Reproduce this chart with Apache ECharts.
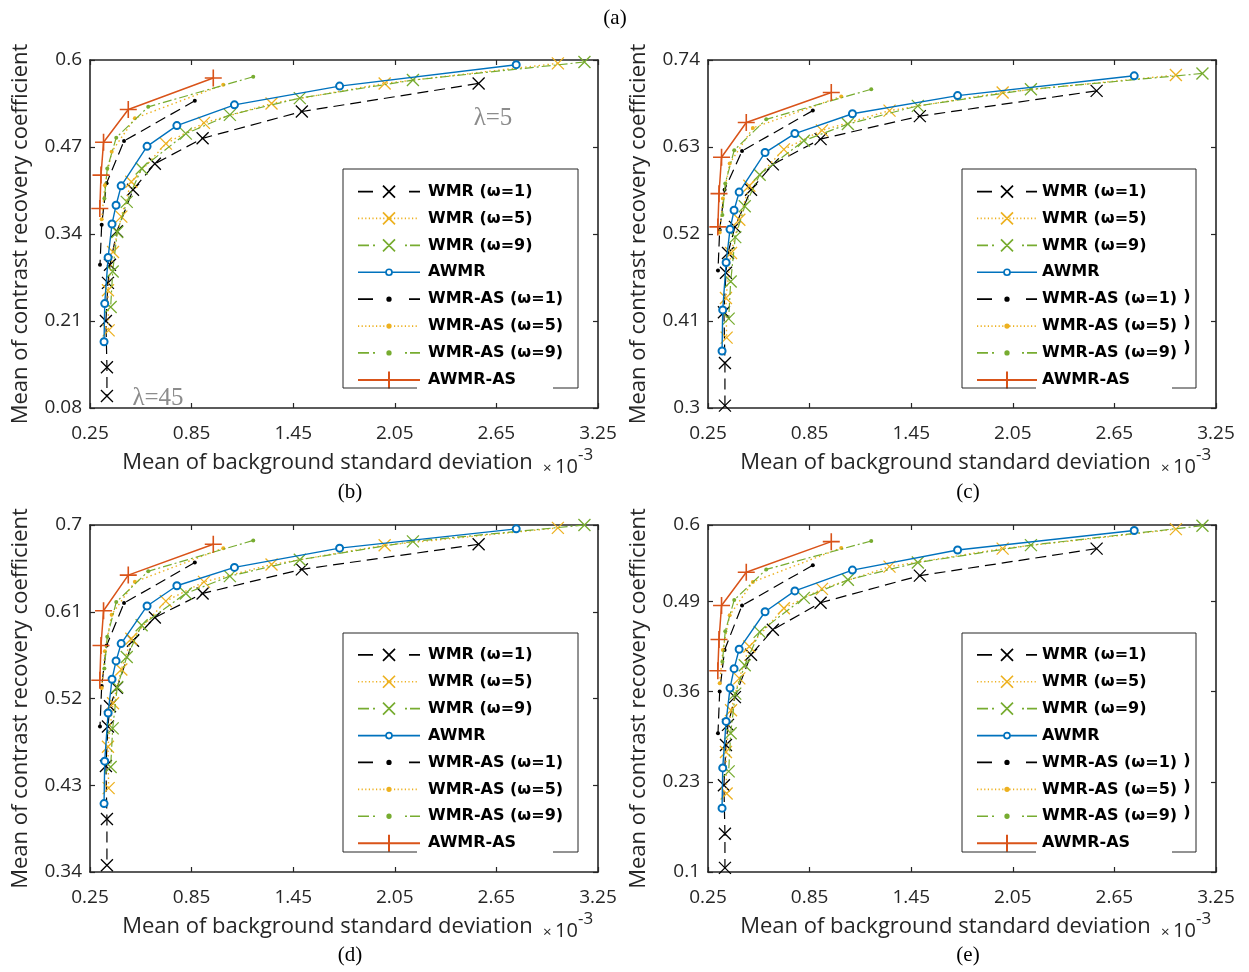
<!DOCTYPE html>
<html>
<head>
<meta charset="utf-8">
<script src="https://cdn.jsdelivr.net/npm/echarts@6/dist/echarts.min.js"></script>
<style>
  html, body { margin: 0; padding: 0; background: #fff; }
  #chart { width: 1249px; height: 972px; }
</style>
</head>
<body>
<div id="chart"></div>
<script>
// ---- data (x = mean of background std, x1e-3; y = mean CRC) ----
const seriesNames = ['WMR (ω=1)', 'WMR (ω=5)', 'WMR (ω=9)', 'AWMR',
  'WMR-AS (ω=1)', 'WMR-AS (ω=5)', 'WMR-AS (ω=9)', 'AWMR-AS'];

const xTicks = [0.25, 0.85, 1.45, 2.05, 2.65, 3.25];
const yTicksB = [0.08, 0.21, 0.34, 0.47, 0.6];
const yTicksC = [0.3, 0.41, 0.52, 0.63, 0.74];
const yTicksD = [0.34, 0.43, 0.52, 0.61, 0.7];
const yTicksE = [0.1, 0.23, 0.36, 0.49, 0.6];

// x positions (same in all four panels), lambda = 5 ... 45
const xWMR1 = [2.545, 1.501, 0.915, 0.633, 0.504, 0.409, 0.368, 0.356, 0.344, 0.350, 0.350];
const xWMR5 = [3.013, 1.990, 1.322, 0.923, 0.698, 0.494, 0.435, 0.386, 0.356, 0.360];
const xWMR9 = [3.170, 2.157, 1.489, 1.076, 0.816, 0.555, 0.467, 0.411, 0.384, 0.372];
const xAWMR = [2.767, 1.724, 1.103, 0.763, 0.587, 0.434, 0.404, 0.380, 0.357, 0.337, 0.333];
const xAS1 = [0.869, 0.451, 0.348, 0.319, 0.309];
const xAS5 = [1.037, 0.515, 0.378, 0.338, 0.319];
const xAS9 = [1.214, 0.594, 0.405, 0.352, 0.335];
const xAWMRAS = [0.978, 0.476, 0.330, 0.315, 0.308];

// y values per panel, in series order
const yPanelB = [
  [0.565, 0.523, 0.483, 0.445, 0.406, 0.344, 0.294, 0.267, 0.210, 0.141, 0.098],
  [0.595, 0.565, 0.535, 0.506, 0.475, 0.418, 0.366, 0.313, 0.256, 0.196],
  [0.597, 0.570, 0.543, 0.518, 0.490, 0.438, 0.388, 0.343, 0.284, 0.231],
  [0.593, 0.561, 0.533, 0.502, 0.471, 0.412, 0.383, 0.355, 0.305, 0.236, 0.179],
  [0.539, 0.479, 0.416, 0.354, 0.294],
  [0.563, 0.513, 0.463, 0.413, 0.362],
  [0.575, 0.530, 0.484, 0.438, 0.393],
  [0.573, 0.526, 0.477, 0.428, 0.378]
];
const yPanelC = [
  [0.701, 0.669, 0.640, 0.608, 0.576, 0.529, 0.496, 0.471, 0.421, 0.357, 0.303],
  [0.721, 0.699, 0.676, 0.651, 0.627, 0.581, 0.538, 0.496, 0.439, 0.389],
  [0.723, 0.703, 0.682, 0.659, 0.638, 0.595, 0.555, 0.516, 0.460, 0.413],
  [0.720, 0.695, 0.672, 0.647, 0.623, 0.573, 0.550, 0.526, 0.484, 0.424, 0.372],
  [0.676, 0.625, 0.576, 0.525, 0.474],
  [0.694, 0.654, 0.609, 0.565, 0.522],
  [0.703, 0.665, 0.626, 0.584, 0.544],
  [0.699, 0.661, 0.617, 0.571, 0.529]
];
const yPanelD = [
  [0.680, 0.654, 0.629, 0.604, 0.580, 0.531, 0.512, 0.491, 0.450, 0.395, 0.347],
  [0.697, 0.679, 0.659, 0.641, 0.621, 0.582, 0.550, 0.515, 0.470, 0.427],
  [0.700, 0.683, 0.664, 0.647, 0.629, 0.596, 0.563, 0.532, 0.489, 0.449],
  [0.696, 0.676, 0.656, 0.637, 0.616, 0.577, 0.559, 0.540, 0.505, 0.455, 0.411],
  [0.661, 0.619, 0.575, 0.533, 0.491],
  [0.676, 0.641, 0.607, 0.569, 0.531],
  [0.684, 0.652, 0.620, 0.584, 0.551],
  [0.680, 0.648, 0.611, 0.575, 0.539]
];
const yPanelE = [
  [0.566, 0.527, 0.488, 0.449, 0.413, 0.352, 0.312, 0.283, 0.225, 0.155, 0.106],
  [0.594, 0.566, 0.540, 0.508, 0.480, 0.425, 0.379, 0.333, 0.273, 0.213],
  [0.599, 0.571, 0.546, 0.521, 0.495, 0.446, 0.398, 0.357, 0.300, 0.245],
  [0.592, 0.564, 0.535, 0.505, 0.475, 0.421, 0.393, 0.365, 0.317, 0.250, 0.192],
  [0.542, 0.484, 0.420, 0.360, 0.300],
  [0.567, 0.518, 0.470, 0.420, 0.372],
  [0.577, 0.536, 0.492, 0.447, 0.403],
  [0.576, 0.532, 0.484, 0.435, 0.390]
];

const xSets = [xWMR1, xWMR5, xWMR9, xAWMR, xAS1, xAS5, xAS9, xAWMRAS];

// ---- styles ----
const BLACK = '#000000', ORANGE = '#EDB120', GREEN = '#77AC30', BLUE = '#0072BD', RED = '#D95319';
const AXIS = '#262626';
const CROSS = 'path://M0,0L10,10M10,0L0,10';
const PLUS = 'path://M5,0L5,10M0,5L10,5';
const DASH = [11, 6], DOT = [1.5, 3], DASHDOT = [9, 3, 2, 3];

const looks = [
  { color: BLACK, dash: DASH, symbol: CROSS, size: 12, width: 1.2, legend: 'dash', mark: 'cross' },
  { color: ORANGE, dash: DOT, symbol: CROSS, size: 12, width: 1.4, legend: 'dot', mark: 'cross' },
  { color: GREEN, dash: DASHDOT, symbol: CROSS, size: 12, width: 1.2, legend: 'dashdot', mark: 'cross' },
  { color: BLUE, dash: 'solid', symbol: 'emptyCircle', size: 7, width: 1.4, legend: 'solid', mark: 'circle' },
  { color: BLACK, dash: DASH, symbol: 'circle', size: 4, width: 1.2, legend: 'dash', mark: 'dot' },
  { color: ORANGE, dash: DOT, symbol: 'circle', size: 4, width: 1.4, legend: 'dot', mark: 'dot' },
  { color: GREEN, dash: DASHDOT, symbol: 'circle', size: 4, width: 1.2, legend: 'dashdot', mark: 'dot' },
  { color: RED, dash: 'solid', symbol: PLUS, size: 17, width: 1.5, legend: 'solid', mark: 'plus' }
];

const panels = [
  { grid: { left: 90, top: 60, width: 508, height: 348 }, yTicks: yTicksB, ys: yPanelB,
    legend: { left: 357, top: 181.7, w: 62, pad: 3 }, box: [343, 169, 578, 388], tag: '(b)', tagPos: [350, 492] },
  { grid: { left: 708, top: 60, width: 508, height: 348 }, yTicks: yTicksC, ys: yPanelC,
    legend: { left: 976, top: 181.7, w: 60, pad: 0 }, box: [962, 169, 1196, 388], tag: '(c)', tagPos: [968, 492] },
  { grid: { left: 90, top: 525, width: 508, height: 347 }, yTicks: yTicksD, ys: yPanelD,
    legend: { left: 357, top: 645, w: 62, pad: 3 }, box: [343, 633, 578, 852], tag: '(d)', tagPos: [350, 955] },
  { grid: { left: 708, top: 525, width: 508, height: 347 }, yTicks: yTicksE, ys: yPanelE,
    legend: { left: 976, top: 645, w: 60, pad: 0 }, box: [962, 633, 1196, 852], tag: '(e)', tagPos: [968, 955] }
];

// legend icon drawn as one path in a W x 18 box (line pattern + marker)
function iconPath(look, W) {
  const c = W / 2, y = 9;
  let p = 'M0,0M' + W + ',18';
  const seg = (a, b) => { p += 'M' + a + ',' + y + 'L' + b + ',' + y; };
  const dots = (a, b) => { for (let x = a; x + 1.2 <= b; x += 3.6) seg(x, x + 1.2); };
  if (look.legend === 'solid') {
    if (look.mark === 'circle') { seg(0, c - 3.2); seg(c + 3.2, W); } else seg(0, W);
  } else if (look.legend === 'dash') {
    seg(0, 15); seg(W - 11, W);
  } else if (look.legend === 'dot') {
    dots(0, W);
  } else {
    seg(0, 11); seg(15, 17); seg(W - 15, W - 13); seg(W - 10, W);
  }
  if (look.mark === 'cross') {
    p += 'M' + (c - 6) + ',3L' + (c + 6) + ',15M' + (c + 6) + ',3L' + (c - 6) + ',15';
  } else if (look.mark === 'plus') {
    p += 'M' + c + ',0.5L' + c + ',17.5';
  } else {
    const r = look.mark === 'circle' ? 3 : 1.8;
    p += 'M' + (c + r) + ',9A' + r + ',' + r + ' 0 1 1 ' + (c - r) + ',9A' + r + ',' + r + ' 0 1 1 ' + (c + r) + ',9Z';
  }
  return 'path://' + p;
}

const fmtX = v => v.toFixed(2);
const fmtY = v => String(+v.toFixed(2));

const grids = [], xAxes = [], yAxes = [], series = [], legends = [], graphics = [];

panels.forEach((pn, pi) => {
  grids.push(Object.assign({ containLabel: false, outerBoundsMode: 'none' }, pn.grid));
  const xi = xAxes.length, yi = yAxes.length;
  const lineStyle = { color: AXIS, width: 1.6 };
  const tick = { show: true, inside: true, length: 5, lineStyle: { color: AXIS, width: 1.2 } };
  const xBase = {
    gridIndex: pi, type: 'value', min: xTicks[0], max: xTicks[xTicks.length - 1],
    interval: +(xTicks[1] - xTicks[0]).toFixed(4), splitLine: { show: false },
    axisLine: { show: true, onZero: false, lineStyle }, axisTick: tick
  };
  const yt = pn.yTicks;
  const yBase = {
    gridIndex: pi, type: 'value', min: yt[0], max: yt[yt.length - 1],
    interval: +(yt[1] - yt[0]).toFixed(4), splitLine: { show: false },
    axisLine: { show: true, onZero: false, lineStyle }, axisTick: tick
  };
  xAxes.push(Object.assign({}, xBase, {
    position: 'bottom',
    axisLabel: { formatter: fmtX, color: AXIS, fontSize: 19, fontFamily: 'Open Sans', margin: 16 },
    name: 'Mean of background standard deviation', nameLocation: 'middle', nameGap: 44,
    nameTextStyle: { color: AXIS, fontSize: 22, fontFamily: 'Open Sans', padding: [0, 33, 0, 0] }
  }));
  xAxes.push(Object.assign({}, xBase, { position: 'top', axisLabel: { show: false } }));
  yAxes.push(Object.assign({}, yBase, {
    position: 'left',
    axisLabel: { formatter: fmtY, color: AXIS, fontSize: 19, fontFamily: 'Open Sans', margin: 8 },
    name: 'Mean of contrast recovery coefficient', nameLocation: 'middle', nameGap: 58,
    nameTextStyle: { color: AXIS, fontSize: 22, fontFamily: 'Open Sans' }
  }));
  yAxes.push(Object.assign({}, yBase, { position: 'right', axisLabel: { show: false } }));

  seriesNames.forEach((name, si) => {
    const lk = looks[si];
    series.push({
      name, type: 'line', xAxisIndex: xi, yAxisIndex: yi,
      data: xSets[si].map((x, j) => [x, pn.ys[si][j]]),
      symbol: lk.symbol, symbolSize: lk.size, showAllSymbol: true, clip: false,
      lineStyle: { color: lk.color, width: lk.width, type: lk.dash },
      itemStyle: { color: lk.color, borderColor: lk.color, borderWidth: lk.mark === 'dot' ? 0 : (lk.mark === 'plus' ? 1.6 : 1.3) },
      emphasis: { disabled: true }, silent: true, z: 2 + si
    });
  });

  const lg = pn.legend;
  legends.push({
    orient: 'vertical', left: lg.left, top: lg.top, padding: 0,
    itemWidth: lg.w, itemHeight: 18, itemGap: 7.2, selectedMode: false,
    symbolKeepAspect: true,
    textStyle: { fontFamily: 'DejaVu Sans', fontWeight: 'bold', fontSize: 16, color: '#000',
      lineHeight: 18, padding: [0, 0, 0, lg.pad] },
    data: seriesNames.map((name, si) => {
      const lk = looks[si];
      return {
        name, icon: iconPath(lk, lg.w),
        itemStyle: {
          color: lk.mark === 'circle' ? '#fff' : lk.color,
          borderColor: lk.color, borderWidth: lk.mark === 'plus' ? 2 : 1.7
        }
      };
    })
  });

  // legend frame (bottom edge has a gap in the original)
  const [x0, y0, x1, y1] = pn.box;
  graphics.push({
    type: 'polyline', silent: true, z: 50,
    shape: { points: [[x0 + 74, y1], [x0, y1], [x0, y0], [x1, y0], [x1, y1], [x0 + 210, y1]] },
    style: { stroke: AXIS, lineWidth: 1, fill: 'none' }
  });

  // x 10^-3 exponent label
  const gx = pn.grid.left + pn.grid.width, gy = pn.grid.top + pn.grid.height;
  graphics.push({ type: 'text', x: gx - 55, y: gy + 61, silent: true,
    style: { text: '×', fill: AXIS, font: '15px "Open Sans"', verticalAlign: 'middle' } });
  graphics.push({ type: 'text', x: gx - 43, y: gy + 59, silent: true,
    style: { text: '10', fill: AXIS, font: '20px "Open Sans"', verticalAlign: 'middle' } });
  graphics.push({ type: 'text', x: gx - 20, y: gy + 47, silent: true,
    style: { text: '-3', fill: AXIS, font: '17px "Open Sans"', verticalAlign: 'middle' } });

  graphics.push({ type: 'text', x: pn.tagPos[0], y: pn.tagPos[1], silent: true,
    style: { text: pn.tag, fill: '#000', font: '21px "Liberation Serif"', align: 'center', verticalAlign: 'middle' } });
});

graphics.push({ type: 'text', x: 615, y: 18, silent: true,
  style: { text: '(a)', fill: '#000', font: '21px "Liberation Serif"', align: 'center', verticalAlign: 'middle' } });
graphics.push({ type: 'text', x: 493, y: 118, silent: true,
  style: { text: 'λ=5', fill: '#8c8c8c', font: '25px "Liberation Serif"', align: 'center', verticalAlign: 'middle' } });
graphics.push({ type: 'text', x: 158, y: 398, silent: true,
  style: { text: 'λ=45', fill: '#8c8c8c', font: '25px "Liberation Serif"', align: 'center', verticalAlign: 'middle' } });
// stray closing brackets beside the legends of (c) and (e)
[[1187, 297], [1187, 323], [1187, 348], [1187, 761], [1187, 787], [1187, 813]].forEach(p => {
  graphics.push({ type: 'text', x: p[0], y: p[1], silent: true,
    style: { text: ')', fill: '#000', font: 'bold 16px "DejaVu Sans"', align: 'center', verticalAlign: 'middle' } });
});

const chart = echarts.init(document.getElementById('chart'), null, { renderer: 'canvas' });
chart.setOption({
  animation: false,
  backgroundColor: '#fff',
  grid: grids,
  xAxis: xAxes,
  yAxis: yAxes,
  legend: legends,
  series: series,
  graphic: { elements: graphics }
});
</script>
</body>
</html>
